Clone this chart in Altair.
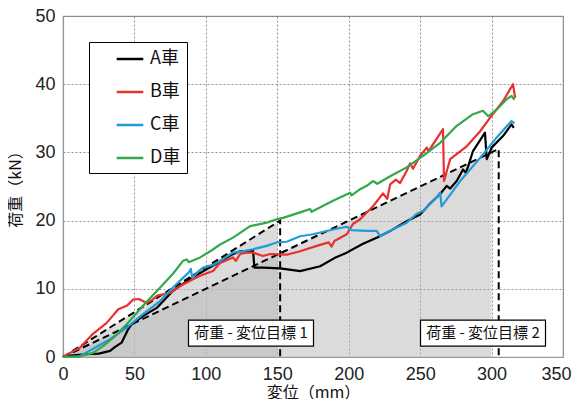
import altair as alt
import pandas as pd

# ---- measured load-displacement curves ----
series_names = ["A車", "B車", "C車", "D車"]
series_colors = ["#000000", "#e8302c", "#229bd8", "#33a84a"]

a_x = [0, 5, 15, 25, 33, 36, 41, 45.7, 48, 56, 65.6, 77, 90, 100, 110, 118, 124, 133, 134, 140, 152, 166,
       180, 190, 198.6, 210, 219.6, 230, 240.6, 250, 257, 264, 268.6, 271, 275.6, 280, 282, 284, 287,
       295.4, 296.6, 300, 308, 314, 315.5]
a_y = [0, 0.2, 0.4, 0.5, 0.9, 1.4, 2.1, 4.1, 4.8, 6.0, 7.2, 9.7, 11.6, 12.8, 14.0, 15.0, 15.5, 15.6, 13.1,
       13.1, 13.0, 12.6, 13.3, 14.5, 15.3, 16.6, 17.5, 18.6, 19.9, 20.9, 22.5, 23.9, 25.1, 24.7, 25.8,
       27.5, 27.0, 28.2, 30.2, 32.9, 29.0, 30.7, 32.4, 34.1, 33.6]

b_x = [0, 5, 12, 21, 30.6, 38.7, 44.6, 49, 53, 56, 58.6, 62, 66, 75, 82, 91, 96, 105, 110, 119, 121, 124,
       128.6, 133, 140, 145, 156.6, 166, 177.6, 186, 188, 190, 198.6, 203, 208, 217, 224, 227, 229, 233,
       236, 240.6, 243, 245, 250, 254.6, 256, 260, 266, 266.7, 271, 282.6, 292, 299, 308, 315, 316.5]
b_y = [0, 0.6, 1.4, 3.4, 5.0, 7.0, 7.5, 8.4, 8.5, 8.2, 7.9, 8.3, 9.0, 9.4, 10.4, 11.4, 11.9, 12.6, 13.8,
       14.6, 14.1, 15.1, 15.3, 15.3, 14.8, 15.1, 15.0, 15.5, 16.3, 16.8, 16.2, 17.0, 18.0, 19.5, 20.2,
       22.1, 24.0, 23.2, 25.3, 26.0, 25.5, 27.3, 28.4, 27.6, 29.5, 30.7, 30.2, 31.5, 33.4, 25.8, 29.0,
       30.9, 33.1, 35.1, 37.5, 40.0, 38.0]

c_x = [0, 12, 21, 33, 44.6, 56, 68, 77, 84, 88, 89.5, 90.5, 95, 98, 105, 110, 119, 126, 133, 142.6, 149.6,
       156.6, 166, 175, 189, 198.6, 202, 212.6, 219.6, 222, 229, 240.6, 247.6, 252, 261.6, 264, 265, 278,
       292, 303.6, 314, 316]
c_y = [0, 0.15, 1.2, 2.6, 4.3, 6.3, 8.2, 10.2, 11.6, 12.4, 12.9, 11.6, 12.6, 13.1, 13.5, 14.1, 15.3, 15.5,
       15.8, 16.3, 16.8, 16.9, 17.7, 18.0, 18.7, 19.1, 18.6, 18.5, 18.5, 17.7, 18.5, 19.7, 21.0, 21.4,
       23.4, 24.1, 22.1, 25.8, 29.2, 32.2, 34.6, 34.3]

d_x = [0, 10, 21, 28, 35, 44.6, 56, 68, 77, 84, 86.6, 88, 96, 103, 110, 119, 131, 142.6, 149.6, 154, 166,
       173, 174, 189, 201, 202, 208, 212.6, 217, 220, 229, 240.6, 252, 264, 275.6, 287, 294, 297.7, 303.6,
       310.6, 314, 316]
d_y = [0, 0.0, 0.6, 1.6, 2.8, 4.8, 7.5, 10.2, 12.2, 14.1, 14.3, 13.9, 14.6, 15.5, 16.5, 17.5, 19.2, 19.7,
       20.2, 20.4, 21.2, 21.7, 21.3, 22.9, 24.1, 23.7, 24.6, 25.1, 25.8, 25.4, 26.5, 27.8, 29.5, 31.4,
       33.9, 35.6, 36.1, 35.3, 36.3, 37.8, 38.3, 37.7]

# ---- target (load-displacement goal) lines and shaded regions ----
target_names = ["目標1", "目標2"]
t1_x = [0, 152, 152]
t1_y = [0, 20, 0]
t2_x = [0, 305, 305]
t2_y = [0, 30.5, 0]
shade1_x = [0, 150]
shade1_y = [0, 19.7]
shade2_x = [0, 300]
shade2_y = [0, 30.0]

label_texts = ["荷重 - 変位目標 1", "荷重 - 変位目標 2"]
label_x = [131.6, 294]
label_y = [3.5, 3.5]

# ---- tables ----
rows = []
for name, xs, ys in zip(series_names, [a_x, b_x, c_x, d_x], [a_y, b_y, c_y, d_y]):
    for i, (x, y) in enumerate(zip(xs, ys)):
        rows.append({"series": name, "x": x, "y": y, "i": i})
curves = pd.DataFrame(rows)

trows = []
for name, xs, ys in zip(target_names, [t1_x, t2_x], [t1_y, t2_y]):
    for i, (x, y) in enumerate(zip(xs, ys)):
        trows.append({"t": name, "x": x, "y": y, "i": i})
targets = pd.DataFrame(trows)

srows = []
for name, xs, ys in zip(target_names, [shade1_x, shade2_x], [shade1_y, shade2_y]):
    for x, y in zip(xs, ys):
        srows.append({"t": name, "x": x, "y": y})
shades = pd.DataFrame(srows)

labels = pd.DataFrame({"text": label_texts, "x": label_x, "y": label_y})

FONT = "Liberation Sans, Noto Sans CJK JP, sans-serif"
JFONT = "Noto Sans CJK JP, Liberation Sans, sans-serif"

xscale = alt.Scale(domain=[0, 350], nice=False)
yscale = alt.Scale(domain=[0, 50], nice=False)
xaxis = alt.Axis(values=list(range(0, 351, 50)), title="変位（mm）", titleFont=JFONT,
                 titleFontSize=16, titleFontWeight="normal", titleY=40,
                 titleBaseline="alphabetic", labelFlush=False,
                 labelOffset={"condition": {"test": "datum.value == 350", "value": -7}, "value": 0})
yaxis = alt.Axis(values=list(range(0, 51, 5)), title="荷重（kN）", titleFont=JFONT,
                 titleFontSize=16, titleFontWeight="normal", titleX=-48, titleY=169,
                 titleBaseline="middle", titleAlign="center", labelFlush=False)

shade_layer = alt.Chart(shades).mark_area(color="#b8b8b8", opacity=0.5).encode(
    x=alt.X("x:Q", scale=xscale, axis=xaxis),
    y=alt.Y("y:Q", scale=yscale, axis=yaxis, stack=None),
    detail="t:N",
)

target_layer = alt.Chart(targets).mark_line(color="black", strokeDash=[7, 4], strokeWidth=2).encode(
    x=alt.X("x:Q", scale=xscale),
    y=alt.Y("y:Q", scale=yscale),
    detail="t:N",
    order="i:Q",
)

curve_layer = alt.Chart(curves).mark_line(strokeJoin="round", strokeWidth=2.2).encode(
    x=alt.X("x:Q", scale=xscale),
    y=alt.Y("y:Q", scale=yscale),
    color=alt.Color("series:N", scale=alt.Scale(domain=series_names, range=series_colors),
                    sort=series_names,
                    legend=alt.Legend(title=None, orient="none", legendX=26, legendY=26,
                                      strokeColor="black", fillColor="white", padding=6,
                                      symbolType="M-1.4,0H1.4", symbolSize=361, symbolStrokeWidth=2.5,
                                      labelFontSize=18, labelFont=JFONT, labelColor="#111",
                                      labelOffset=9, rowPadding=13, symbolOffset=24)),
    order="i:Q",
)

box_layer = alt.Chart(labels).mark_rect(width=125, height=26, fill="white", stroke="black",
                                        strokeWidth=1.2).encode(
    x=alt.X("x:Q", scale=xscale),
    y=alt.Y("y:Q", scale=yscale),
)

text_layer = alt.Chart(labels).mark_text(font=JFONT, fontSize=15, color="#111").encode(
    x=alt.X("x:Q", scale=xscale),
    y=alt.Y("y:Q", scale=yscale),
    text="text:N",
)

chart = alt.layer(shade_layer, target_layer, curve_layer, box_layer, text_layer).properties(
    width=500, height=341,
    autosize=alt.AutoSizeParams(type="none"),
    padding={"left": 55, "top": 8, "right": 9, "bottom": 42},
).configure_view(
    stroke="#999", strokeWidth=1.2
).configure_axis(
    grid=True, gridColor="#777", gridDash=[2, 2], gridWidth=0.8,
    domainColor="#999", domainWidth=1.2, ticks=False,
    labelFont=FONT, labelFontSize=18, labelColor="#222", labelPadding=8,
    titleColor="#111",
)

chart.save("out.html", embed_options={"renderer": "svg", "actions": False})
